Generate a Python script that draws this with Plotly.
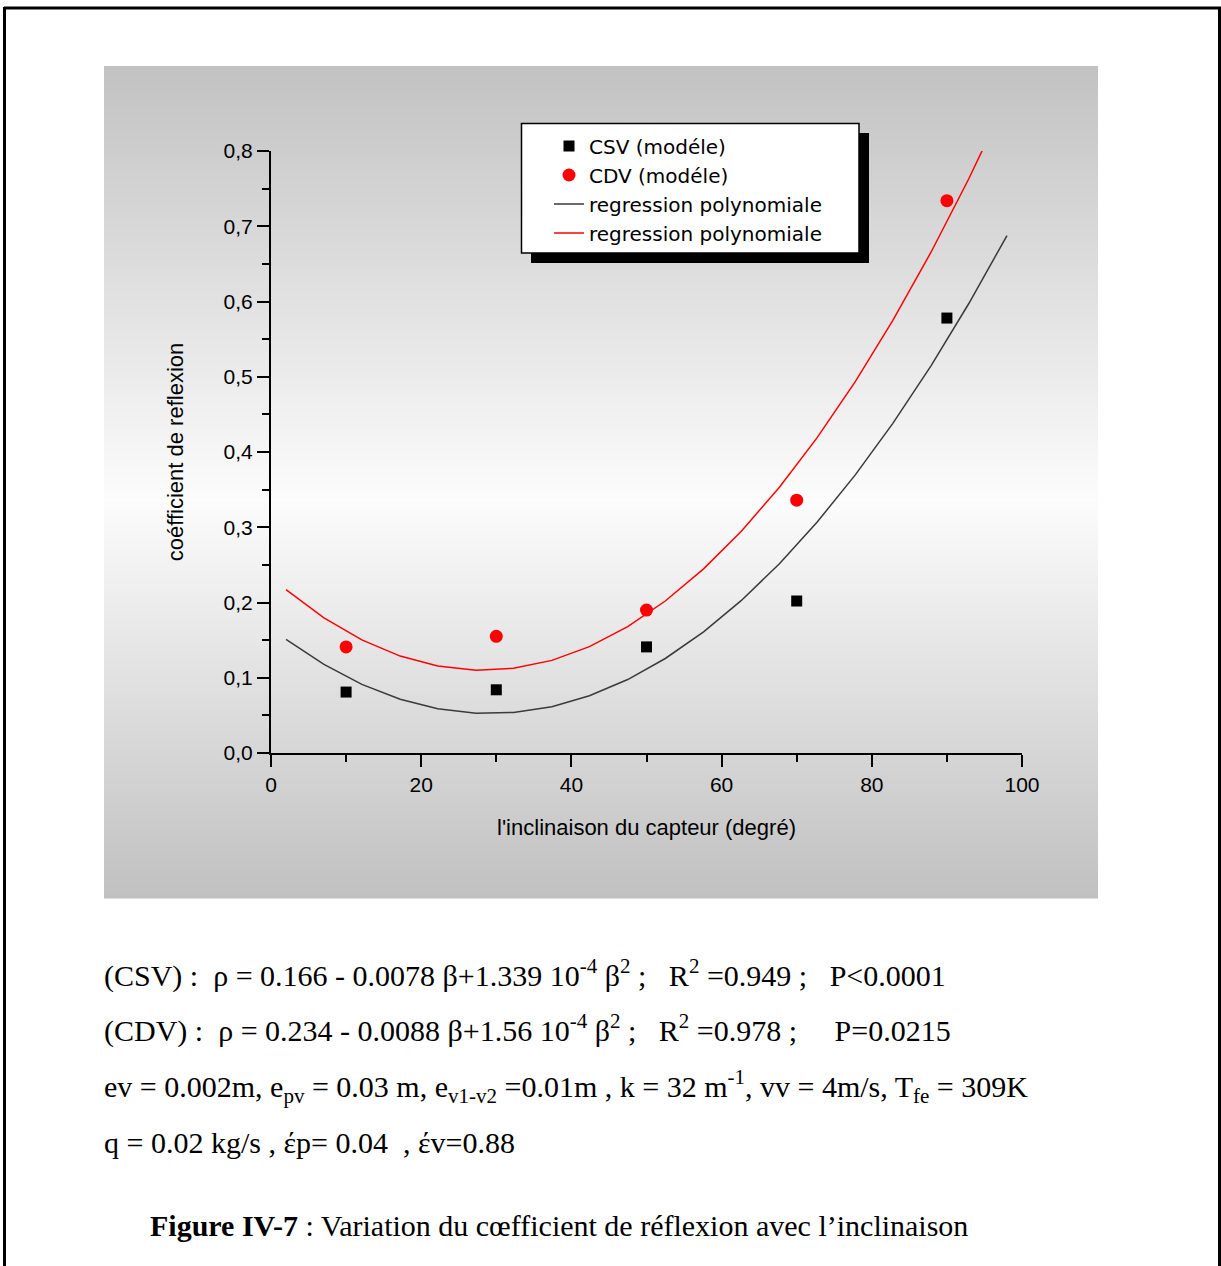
import plotly.graph_objects as go

# ---------------- data ----------------
beta_pts = [10, 30, 50, 70, 90]
csv_pts = [0.081, 0.084, 0.141, 0.202, 0.578]
cdv_pts = [0.141, 0.155, 0.190, 0.336, 0.734]

beta_fit = [2, 7.05, 12.1, 17.2, 22.2, 27.3, 32.3, 37.4, 42.4, 47.5,
            52.5, 57.6, 62.6, 67.7, 72.7, 77.8, 82.8, 87.9, 92.9, 98]
csv_fit = [0.1509, 0.1177, 0.0912, 0.0715, 0.0588, 0.0529, 0.0538, 0.0616, 0.0760, 0.0976,
           0.1256, 0.1610, 0.2024, 0.2516, 0.3066, 0.3696, 0.4381, 0.5149, 0.5970, 0.6876]
cdv_fit = [0.2170, 0.1797, 0.1504, 0.1288, 0.1155, 0.1100, 0.1125, 0.1231, 0.1413, 0.1680,
           0.2020, 0.2447, 0.2944, 0.3532, 0.4187, 0.4936, 0.5749, 0.6658, 0.7628, 0.8698]

x_ticks = [0, 20, 40, 60, 80, 100]
legend_names = ["CSV (modéle)", "CDV (modéle)", "regression polynomiale", "regression polynomiale"]

text_lines = [
    "(CSV) :\u00a0 ρ = 0.166 - 0.0078 β+1.339 10<sup>-4</sup> β<sup>2</sup> ;\u00a0\u00a0 R<sup>2</sup> =0.949 ;\u00a0\u00a0 P&lt;0.0001",
    "(CDV) :\u00a0 ρ = 0.234 - 0.0088 β+1.56 10<sup>-4</sup> β<sup>2</sup> ;\u00a0\u00a0 R<sup>2</sup> =0.978 ;\u00a0\u00a0\u00a0\u00a0 P=0.0215",
    "ev = 0.002m, e<sub>pv</sub> = 0.03 m, e<sub>v1-v2</sub> =0.01m , k = 32 m<sup>-1</sup>, vv = 4m/s, T<sub>fe</sub> = 309K",
    "q = 0.02 kg/s , έp= 0.04\u00a0 , έv=0.88",
]
caption = "<b>Figure IV-7</b> : Variation du cœfficient de réflexion avec l’inclinaison"

# ---------------- geometry helpers (pixel -> paper) ----------------
W, H = 1221, 1266
PL, PR, PT, PB = 271, 1022, 151, 753


def fx(px):
    return (px - PL) / (PR - PL)


def fy(py):
    return (PB - py) / (PB - PT)


ARIAL = "Arial, Liberation Sans, sans-serif"
WIDE = "DejaVu Sans, Arial, sans-serif"
TIMES = "Times New Roman, Liberation Serif, serif"

fig = go.Figure()
fig.add_trace(go.Scatter(x=beta_pts, y=csv_pts, mode="markers", name=legend_names[0],
                         marker=dict(symbol="square", size=11, color="black")))
fig.add_trace(go.Scatter(x=beta_pts, y=cdv_pts, mode="markers", name=legend_names[1],
                         marker=dict(symbol="circle", size=13, color="#ff0000")))
fig.add_trace(go.Scatter(x=beta_fit, y=csv_fit, mode="lines", name=legend_names[2],
                         line=dict(color="#3a3a3a", width=1.5)))
fig.add_trace(go.Scatter(x=beta_fit, y=cdv_fit, mode="lines", name=legend_names[3],
                         line=dict(color="#ff0000", width=1.5)))

shapes = []
# gradient panel
top, bot, mid = 66, 898, 500
step = 4
y = top
while y < bot:
    y2 = min(y + step, bot)
    m = (y + y2) / 2
    if m < mid:
        t = (mid - m) / (mid - top)
        v = 252 - (252 - 194) * t
    else:
        t = (m - mid) / (bot - mid)
        v = 252 - (252 - 192) * t
    v = int(round(v))
    c = f"rgb({v},{v},{v})"
    shapes.append(dict(type="rect", xref="paper", yref="paper", layer="below",
                       x0=fx(104), x1=fx(1098), y0=fy(y), y1=fy(y2 + 0.5),
                       fillcolor=c, line=dict(width=0)))
    y = y2

# legend shadow and box
shapes.append(dict(type="rect", xref="paper", yref="paper", layer="above",
                   x0=fx(531), x1=fx(869), y0=fy(133), y1=fy(263),
                   fillcolor="black", line=dict(width=0)))
shapes.append(dict(type="rect", xref="paper", yref="paper", layer="above",
                   x0=fx(521.5), x1=fx(859), y0=fy(123.5), y1=fy(253),
                   fillcolor="white", line=dict(color="black", width=1.5)))
# outer frame
shapes.append(dict(type="line", xref="paper", yref="paper", x0=fx(4), x1=fx(1221),
                   y0=fy(8), y1=fy(8), line=dict(color="black", width=3)))
shapes.append(dict(type="line", xref="paper", yref="paper", x0=fx(4.5), x1=fx(4.5),
                   y0=fy(7), y1=fy(1266), line=dict(color="black", width=3)))
shapes.append(dict(type="line", xref="paper", yref="paper", x0=fx(1219.5), x1=fx(1219.5),
                   y0=fy(7), y1=fy(1266), line=dict(color="black", width=3)))

annotations = []
for txt, py in zip(text_lines, [973, 1028, 1086, 1142]):
    annotations.append(dict(text=txt, xref="paper", yref="paper", x=fx(102), y=fy(py),
                            xanchor="left", yanchor="middle", showarrow=False,
                            font=dict(family=TIMES, size=30, color="black")))
annotations.append(dict(text=caption, xref="paper", yref="paper", x=fx(148), y=fy(1225),
                        xanchor="left", yanchor="middle", showarrow=False,
                        font=dict(family=TIMES, size=30, color="black")))

fig.update_layout(
    width=W, height=H,
    margin=dict(l=PL, r=W - PR, t=PT, b=H - PB, pad=0),
    paper_bgcolor="white", plot_bgcolor="rgba(0,0,0,0)",
    separators=", ",
    shapes=shapes, annotations=annotations,
    font=dict(family=ARIAL, color="black"),
    legend=dict(x=fx(549), y=fy(126.5), xanchor="left", yanchor="top",
                bgcolor="rgba(0,0,0,0)", borderwidth=0,
                font=dict(family=WIDE, size=20, color="black"),
                tracegroupgap=0, itemwidth=30),
    xaxis=dict(range=[0, 100], tickvals=x_ticks, showgrid=False, zeroline=False,
               showline=True, linecolor="black", linewidth=2,
               ticks="outside", ticklen=12, tickwidth=2, tickcolor="black",
               tickfont=dict(family=ARIAL, size=21),
               minor=dict(dtick=10, ticks="outside", ticklen=7, tickwidth=2, tickcolor="black"),
               title=dict(text="l'inclinaison du capteur (degré)", font=dict(family=ARIAL, size=22),
                          standoff=24)),
    yaxis=dict(range=[0, 0.8], dtick=0.1, tickformat=".1f", showgrid=False, zeroline=False,
               showline=True, linecolor="black", linewidth=2,
               ticks="outside", ticklen=12, tickwidth=2, tickcolor="black",
               tickfont=dict(family=ARIAL, size=21),
               minor=dict(dtick=0.05, ticks="outside", ticklen=7, tickwidth=2, tickcolor="black"),
               title=dict(text="coéfficient de reflexion", font=dict(family=ARIAL, size=22),
                          standoff=34)),
)

fig.write_html("out.html")
